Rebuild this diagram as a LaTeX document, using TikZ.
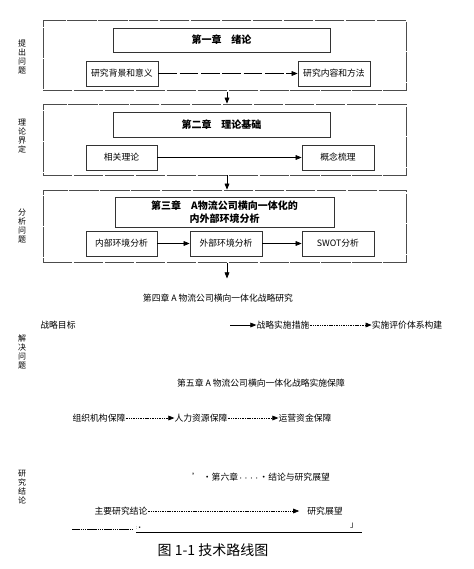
\documentclass[tikz,border=0pt]{standalone}
\usepackage{fontspec}
\setmainfont{Noto Sans CJK SC}
\usetikzlibrary{arrows.meta}
\begin{document}
\begin{tikzpicture}[x=0.75pt,y=-0.75pt,
  every node/.style={font=\fontsize{6.6pt}{8pt}\selectfont, inner sep=0pt},
  sz/.style 2 args={minimum width=#1*0.75pt, minimum height=#2*0.75pt},
  frame/.style={draw=black!70, line width=0.6pt, dash pattern=on 22pt off 1.2pt},
  box/.style={draw=black!80, line width=0.6pt},
  chap/.style={box, font=\fontsize{7.5pt}{9.8pt}\selectfont\bfseries, align=center},
  arr/.style={-{Triangle[length=4.5pt,width=3.6pt]}, line width=0.5pt},
  dotarr/.style={arr, dash pattern=on 0.8pt off 0.5pt},
  side/.style={font=\fontsize{6pt}{6.9pt}\selectfont, align=center},
  plain/.style={font=\fontsize{6.6pt}{8pt}\selectfont}
]
\useasboundingbox (0,0) rectangle (474,569);

% side labels
\node[side] (l1) at (22,57) {提\\出\\问\\题};
\node[side] (l2) at (22,136) {理\\论\\界\\定};
\node[side] (l3) at (22,226) {分\\析\\问\\题};
\node[side] (l4) at (22,352) {解\\决\\问\\题};
\node[side] (l5) at (22,487) {研\\究\\结\\论};

% section 1
\node[frame, sz={363}{70}] (s1) at (224.5,55) {};
\node[chap, sz={217}{24}] (c1) at (221.5,40) {第一章\quad 绪论};
\node[box, sz={72}{25}] (a1) at (122,73.5) {研究背景和意义};
\node[box, sz={72}{25}] (a2) at (334,73.5) {研究内容和方法};
\draw[arr, dash pattern=on 14pt off 2pt] (a1) -- (a2);

% section 2
\node[frame, sz={363}{71}] (s2) at (224.5,139.5) {};
\node[chap, sz={217}{25}] (c2) at (221.5,124.5) {第二章\quad 理论基础};
\node[box, sz={71}{25}] (b1) at (121.5,157.5) {相关理论};
\node[box, sz={72}{25}] (b2) at (338,157.5) {概念梳理};
\draw[arr] (b1) -- (b2);
\draw[arr] (s1.south) ++(2.5,2) coordinate (p1) -- (p1 |- s2.north);

% section 3
\node[frame, sz={363}{72}] (s3) at (224.5,226) {};
\node[chap, sz={219}{30}] (c3) at (224.5,212) {第三章\quad A物流公司横向一体化的\\内外部环境分析};
\node[box, sz={71}{25}] (e1) at (121.5,243.5) {内部环境分析};
\node[box, sz={72}{25}] (e2) at (226,243.5) {外部环境分析};
\node[box, sz={72}{25}] (e3) at (338,243.5) {SWOT分析};
\draw[arr] (e1) -- (e2);
\draw[arr] (e2) -- (e3);
\draw[arr] (s2.south) ++(2.5,0) coordinate (p2) -- (p2 |- s3.north);

% chapter 4
\node[plain] (ch4) at (218,298) {第四章 A 物流公司横向一体化战略研究};
\draw[arr] (s3.south) ++(2.5,1) coordinate (p3) -- ++(0,15);
\node[plain] (g1) at (58,325) {战略目标};
\coordinate (g0) at (230,325);
\node[plain] (g2) at (283,325) {战略实施措施};
\node[plain] (g3) at (407,325) {实施评价体系构建};
\draw[arr] (g0) -- (g2.west);
\draw[dotarr] (g2) -- (g3);

% chapter 5
\node[plain] (ch5) at (261,383) {第五章 A 物流公司横向一体化战略实施保障};
\node[plain] (o1) at (99,418) {组织机构保障};
\node[plain] (o2) at (201,418) {人力资源保障};
\node[plain] (o3) at (305,418) {运营资金保障};
\draw[dotarr] (o1) -- (o2);
\draw[dotarr] (o2) -- (o3);

% chapter 6
\node[plain] (ch6) at (261,477) {’ ·第六章{\fontsize{4pt}{4pt}\selectfont····}·结论与研究展望};
\node[plain] (r1) at (121,511) {主要研究结论};
\node[plain] (r2) at (325,511) {研究展望};
\draw[dotarr, shorten >=6pt] (r1) -- (r2);

% bottom rule
\coordinate (d1) at (72,529);
\coordinate (d2) at (132,529);
\draw[line width=0.5pt, dash pattern=on 1.2pt off 0.4pt] (d1) -- (d2);
\node[font=\fontsize{3.5pt}{4pt}\selectfont] (dm) at (139,528) {:▪};
\coordinate (e0) at (136,532);
\coordinate (e9) at (362,532);
\draw[line width=0.7pt] (e0) -- (e9);
\node[font=\fontsize{6pt}{7pt}\selectfont] (br) at (354,526) {」};

% caption
\node[font=\fontsize{10.5pt}{12pt}\selectfont] (cap) at (213,550) {图 1-1 技术路线图};
\end{tikzpicture}
\end{document}
